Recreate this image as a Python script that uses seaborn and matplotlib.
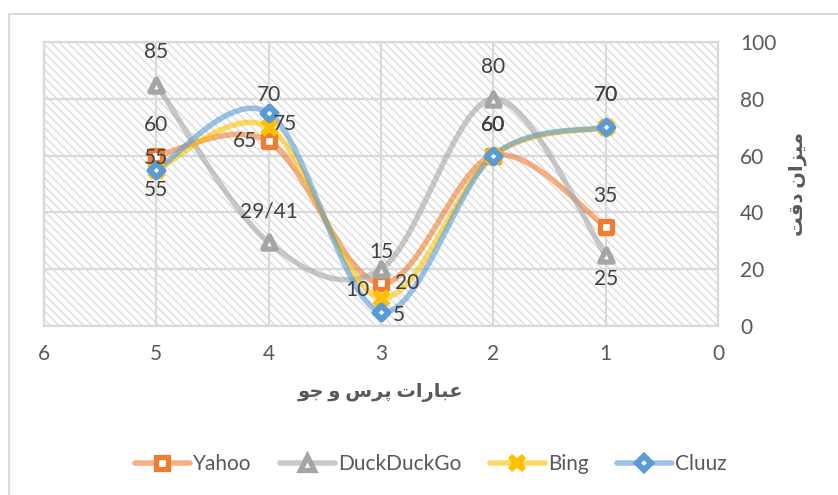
import numpy as np
import pandas as pd
import matplotlib
matplotlib.use("Agg")
import matplotlib.pyplot as plt
import seaborn as sns
from matplotlib.path import Path
from matplotlib.patches import PathPatch
from matplotlib.lines import Line2D
from matplotlib.colors import to_rgba

# Data
queries = [5, 4, 3, 2, 1]
engines = ["Yahoo", "DuckDuckGo", "Bing", "Cluuz"]
yahoo = [60, 65, 15, 60, 35]
duckduckgo = [85, 29.41, 20, 80, 25]
bing = [55, 70, 10, 60, 70]
cluuz = [55, 75, 5, 60, 70]
# data labels as printed on the chart
yahoo_labels = ["60", "65", "15", "60", "35"]
duckduckgo_labels = ["85", "29/41", "20", "80", "25"]
bing_labels = ["55", "70", "10", "60", "70"]
cluuz_labels = ["55", "75", "5", "60", "70"]
x_ticks = [0, 1, 2, 3, 4, 5, 6]
y_ticks = [0, 20, 40, 60, 80, 100]
x_title = "عبارات پرس و جو"
y_title = "میزان دقت"

# Styling
colors = ["#ED7D31", "#A5A5A5", "#FFC000", "#5B9BD5"]
markers = [
    dict(marker="s", s=82, facecolor="white", linewidth=3.8),
    dict(marker="^", s=90, facecolor="white", linewidth=3.8),
    dict(marker="X", s=175, facecolor=None, linewidth=0),
    dict(marker="D", s=50, facecolor="white", linewidth=4.3),
]
# label offsets in pixels (dx, dy up)
label_offsets = [
    [(0, 31), (-24, 0), (0, 31), (0, 31), (0, 31)],
    [(0, 33), (0, 31), (26, -14), (0, 32), (0, -24)],
    [(0, 12), (0, 32), (-24, 8), (0, 31), (0, 32)],
    [(0, -20), (16, -11), (18, -3), (0, 31), (0, 32)],
]

# minimal Arabic shaping: isolated, final, initial, medial forms
FORMS = {
    "ع": "\ufec9\ufeca\ufecb\ufecc",
    "ب": "\ufe8f\ufe90\ufe91\ufe92",
    "ت": "\ufe95\ufe96\ufe97\ufe98",
    "پ": "\ufb56\ufb57\ufb58\ufb59",
    "س": "\ufeb1\ufeb2\ufeb3\ufeb4",
    "ج": "\ufe9d\ufe9e\ufe9f\ufea0",
    "م": "\ufee1\ufee2\ufee3\ufee4",
    "ی": "\ufbfc\ufbfd\ufbfe\ufbff",
    "ن": "\ufee5\ufee6\ufee7\ufee8",
    "ق": "\ufed5\ufed6\ufed7\ufed8",
    "ا": "\ufe8d\ufe8e",
    "ر": "\ufead\ufeae",
    "ز": "\ufeaf\ufeb0",
    "د": "\ufea9\ufeaa",
    "و": "\ufeed\ufeee",
}


def shape(text):
    out = []
    for i, ch in enumerate(text):
        forms = FORMS.get(ch)
        if forms is None:
            out.append(ch)
            continue
        prev = text[i - 1] if i > 0 else " "
        nxt = text[i + 1] if i + 1 < len(text) else " "
        join_prev = len(FORMS.get(prev, "")) == 4
        join_next = len(forms) == 4 and nxt in FORMS
        out.append(forms[(1 if join_prev else 0) + (2 if join_next else 0)])
    return "".join(reversed(out))


def smooth_path(xs, ys):
    # Excel-like smoothed line: cubic Bezier segments through the points
    pts = np.column_stack([xs, ys]).astype(float)
    n = len(pts)
    verts, codes = [pts[0]], [Path.MOVETO]
    for i in range(n - 1):
        p0 = pts[max(i - 1, 0)]
        p3 = pts[min(i + 2, n - 1)]
        verts += [pts[i] + (pts[i + 1] - p0) / 6, pts[i + 1] - (p3 - pts[i]) / 6, pts[i + 1]]
        codes += [Path.CURVE4] * 3
    return Path(verts, codes)


sns.set_theme(style="white")
plt.rcParams["font.family"] = ["Lato", "DejaVu Sans"]
plt.rcParams["hatch.linewidth"] = 1.1

fig = plt.figure(figsize=(8.38, 4.95), dpi=100)
ax = fig.add_axes([44 / 838, 1 - 326 / 495, (718 - 44) / 838, (326 - 42) / 495])

# hatched plot area
ax.patch.set_facecolor("white")
ax.patch.set_hatch("\\\\\\\\")
ax.patch.set_edgecolor("#DEDEDE")
ax.patch.set_linewidth(0)

series = [yahoo, duckduckgo, bing, cluuz]
all_labels = [yahoo_labels, duckduckgo_labels, bing_labels, cluuz_labels]

for values, color in zip(series, colors):
    ax.add_patch(PathPatch(smooth_path(queries, values), facecolor="none",
                           edgecolor=to_rgba(color, 0.6), lw=4, zorder=2,
                           capstyle="round", joinstyle="round"))

for name, values, color, mk in zip(engines, series, colors, markers):
    df = pd.DataFrame({"Query": queries, "Accuracy": values})
    sns.scatterplot(
        data=df, x="Query", y="Accuracy", ax=ax,
        marker=mk["marker"], s=mk["s"],
        color=mk["facecolor"] if mk["facecolor"] else color,
        edgecolor=color, linewidth=mk["linewidth"], zorder=3, legend=False,
    )

for values, labels, offsets in zip(series, all_labels, label_offsets):
    for x, y, lab, (dx, dy) in zip(queries, values, labels, offsets):
        ax.annotate(lab, (x, y), xytext=(dx, dy), textcoords="offset pixels",
                    ha="center", va="center", fontsize=15, color="#404040",
                    zorder=5)

ax.set_xlim(6, 0)
ax.set_ylim(0, 100)
ax.set_xticks(x_ticks)
ax.set_yticks(y_ticks)
ax.yaxis.tick_right()
ax.yaxis.set_label_position("right")
ax.grid(True, color="#D9D9D9", lw=1.6)
ax.tick_params(length=0, labelsize=15, labelcolor="#595959")
ax.tick_params(axis="x", pad=13)
ax.tick_params(axis="y", pad=16)
for sp in ax.spines.values():
    sp.set_color("#D9D9D9")
    sp.set_linewidth(1.6)

ax.set_xlabel(shape(x_title), fontsize=14, fontweight="bold", color="#595959", labelpad=14)
ax.set_ylabel(shape(y_title), fontsize=14, fontweight="bold", color="#595959",
              labelpad=9, rotation=90)

handles = []
for name, color, mk in zip(engines, colors, markers):
    handles.append(Line2D([], [], color=to_rgba(color, 0.6), lw=4,
                          marker=mk["marker"], markersize=np.sqrt(mk["s"]),
                          markerfacecolor=mk["facecolor"] if mk["facecolor"] else color,
                          markeredgecolor=color, markeredgewidth=mk["linewidth"],
                          label=name))
fig.legend(handles=handles, loc="center", bbox_to_anchor=(0.514, 0.062), ncol=4,
           frameon=False, fontsize=15, handlelength=2.65, handletextpad=0.15,
           columnspacing=1.35, labelcolor="#595959")

# outer chart border
fig.add_artist(Line2D([9 / 838, 9 / 838], [0, 1 - 14 / 495], color="#D9D9D9", lw=1.5))
fig.add_artist(Line2D([9 / 838, 1], [1 - 14 / 495, 1 - 14 / 495], color="#D9D9D9", lw=1.5))

fig.savefig("out.png", dpi=100)
